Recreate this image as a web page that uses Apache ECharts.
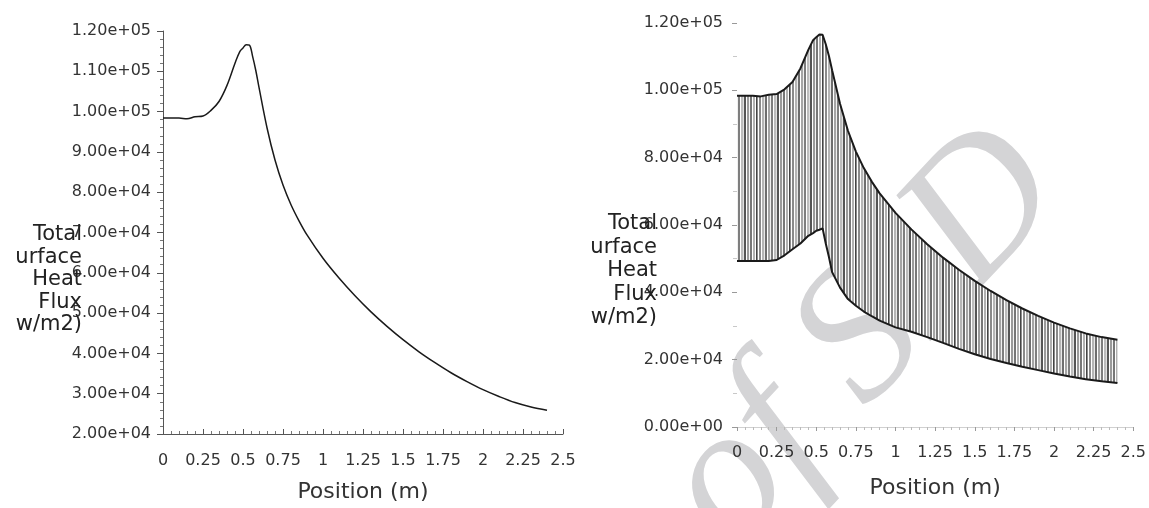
<!DOCTYPE html>
<html><head><meta charset="utf-8">
<script src="https://cdn.jsdelivr.net/npm/echarts@6/dist/echarts.min.js"></script>
<style>html,body{margin:0;padding:0;background:#fff}#c{width:1149px;height:508px}</style>
</head><body><div id="c"></div>
<script>
// Position along the wall (m)
const positions = [0, 0.05, 0.1, 0.15, 0.2, 0.25, 0.3, 0.35, 0.4, 0.45, 0.48, 0.5, 0.52, 0.54, 0.56, 0.58, 0.6, 0.65, 0.7, 0.75, 0.8, 0.85, 0.9, 1.0, 1.1, 1.2, 1.3, 1.4, 1.5, 1.6, 1.7, 1.8, 1.9, 2.0, 2.1, 2.2, 2.3, 2.4];
// Total surface heat flux (w/m2) - upper curve
const totalHeatFlux = [98400, 98400, 98400, 98200, 98700, 98900, 100300, 102500, 106500, 112000, 114900, 115800, 116600, 116500, 113700, 110200, 106000, 96000, 88000, 81800, 76900, 72900, 69400, 63600, 58700, 54300, 50300, 46700, 43400, 40400, 37700, 35200, 33000, 31000, 29300, 27800, 26700, 25900];
// Lower bound curve (right panel)
const lowerHeatFlux = [49300, 49300, 49300, 49300, 49300, 49600, 51000, 52800, 54500, 56800, 57600, 58300, 58600, 59000, 54500, 50500, 46000, 41400, 38000, 36000, 34300, 32900, 31600, 29600, 28300, 26700, 25000, 23200, 21600, 20200, 19000, 17900, 16900, 15900, 15000, 14200, 13600, 13100];

const xTickLabels = ['0', '0.25', '0.5', '0.75', '1', '1.25', '1.5', '1.75', '2', '2.25', '2.5'];
const yLabelText = 'Total\nurface\nHeat\nFlux\nw/m2)';
const xName = 'Position (m)';
const watermarkText = 'Archive of SID';

function sci(v) {
  const s = Number(v).toExponential(2);
  const m = s.split('e');
  const sign = m[1][0];
  let ex = m[1].slice(1);
  if (ex.length < 2) ex = '0' + ex;
  return m[0] + 'e' + sign + ex;
}

// vertical stripe texture for the band between the two curves: [colour, width px]
const stripeSpec = [['#8a8a8a',2],['#ffffff',1],['#b5b5b5',2],['#e8e8e8',1],['#6e6e6e',2],['#ffffff',1],['#a5a5a5',2],['#f0f0f0',1],['#7e7e7e',2],['#ffffff',1],['#bcbcbc',2],['#e0e0e0',1],['#555555',2],['#ffffff',1],['#9a9a9a',2],['#f4f4f4',1],['#777777',2],['#ffffff',1],['#b0b0b0',2],['#ffffff',1],['#444444',1],['#8c8c8c',1],['#ffffff',1]];
const patW = stripeSpec.reduce((s, d) => s + d[1], 0);
const pat = document.createElement('canvas');
pat.width = patW; pat.height = 4;
const pc = pat.getContext('2d');
let px = 0;
stripeSpec.forEach(function (d) { pc.fillStyle = d[0]; pc.fillRect(px, 0, d[1], 4); px += d[1]; });

const fontFam = '"DejaVu Sans", sans-serif';
const pair = (xs, ys) => xs.map((x, i) => [x, ys[i]]);

const chart = echarts.init(document.getElementById('c'), null, {renderer: 'canvas'});
chart.setOption({
  animation: false,
  backgroundColor: '#ffffff',
  grid: [
    {left: 163, right: 586, top: 31, bottom: 68},
    {left: 737, right: 15, top: 23, bottom: 81}
  ],
  xAxis: [
    {
      gridIndex: 0, type: 'value', min: 0, max: 2.5, interval: 0.25,
      name: xName, nameLocation: 'middle', nameGap: 47,
      nameTextStyle: {fontFamily: fontFam, fontSize: 22, color: '#333'},
      axisLine: {show: true, lineStyle: {color: '#555', width: 1}},
      axisTick: {show: true, inside: true, length: 5, lineStyle: {color: '#555'}},
      minorTick: {show: true, splitNumber: 5, length: 3, lineStyle: {color: '#777'}},
      splitLine: {show: false},
      axisLabel: {fontFamily: fontFam, fontSize: 16, color: '#333', margin: 19,
        formatter: function (v, i) { return xTickLabels[i]; }}
    },
    {
      gridIndex: 1, type: 'value', min: 0, max: 2.5, interval: 0.25,
      name: xName, nameLocation: 'middle', nameGap: 50,
      nameTextStyle: {fontFamily: fontFam, fontSize: 22, color: '#333'},
      axisLine: {show: true, lineStyle: {color: '#d0d0d0', width: 1}},
      axisTick: {show: true, inside: false, length: 4, lineStyle: {color: '#999'}},
      minorTick: {show: true, splitNumber: 5, length: 3, lineStyle: {color: '#bbb'}},
      splitLine: {show: false},
      axisLabel: {fontFamily: fontFam, fontSize: 16, color: '#333', margin: 18,
        formatter: function (v, i) { return xTickLabels[i]; }}
    }
  ],
  yAxis: [
    {
      gridIndex: 0, type: 'value', min: 20000, max: 120000, interval: 10000,
      axisLine: {show: true, lineStyle: {color: '#555', width: 1}},
      axisTick: {show: true, inside: false, length: 6, lineStyle: {color: '#555'}},
      minorTick: {show: true, splitNumber: 5, length: 3, lineStyle: {color: '#777'}},
      splitLine: {show: false},
      axisLabel: {fontFamily: fontFam, fontSize: 16, color: '#333', margin: 12, formatter: sci}
    },
    {
      gridIndex: 1, type: 'value', min: 0, max: 120000, interval: 20000,
      axisLine: {show: false},
      axisTick: {show: true, inside: false, length: 5, lineStyle: {color: '#999'}},
      minorTick: {show: true, splitNumber: 2, length: 4, lineStyle: {color: '#c8c8c8'}},
      splitLine: {show: false},
      axisLabel: {fontFamily: fontFam, fontSize: 16, color: '#333', margin: 14, formatter: sci}
    }
  ],
  graphic: [
    {type: 'text', z: -10, zlevel: 0, x: 1031, y: 160, rotation: Math.PI * 47 / 180,
      style: {text: watermarkText, font: 'italic 190px "Liberation Serif", serif', fill: '#d4d4d6', align: 'right', verticalAlign: 'middle'}},
    {type: 'text', z: 10, x: 82, y: 280,
      style: {text: yLabelText, font: '21px ' + fontFam, fill: '#222', align: 'right', verticalAlign: 'middle', lineHeight: 22.5}},
    {type: 'text', z: 10, x: 657, y: 271,
      style: {text: yLabelText, font: '21px ' + fontFam, fill: '#222', align: 'right', verticalAlign: 'middle', lineHeight: 23.5}}
  ],
  series: [
    {
      name: 'Total Surface Heat Flux', type: 'line', xAxisIndex: 0, yAxisIndex: 0,
      data: pair(positions, totalHeatFlux), showSymbol: false, smooth: 0.35,
      lineStyle: {color: '#1a1a1a', width: 1.5}
    },
    {
      name: 'band', type: 'custom', xAxisIndex: 1, yAxisIndex: 1, z: 1,
      data: positions.map((x, i) => [x, lowerHeatFlux[i], totalHeatFlux[i]]),
      encode: {x: 0, y: [1, 2]},
      renderItem: function (params, api) {
        if (params.dataIndex !== 0) return null;
        const pts = [];
        for (let i = 0; i < positions.length; i++) pts.push(api.coord([positions[i], totalHeatFlux[i]]));
        for (let i = positions.length - 1; i >= 0; i--) pts.push(api.coord([positions[i], lowerHeatFlux[i]]));
        return {type: 'polygon', shape: {points: pts}, style: {fill: {image: pat, repeat: 'repeat'}, stroke: null}};
      }
    },
    {
      name: 'lower', type: 'line', xAxisIndex: 1, yAxisIndex: 1, z: 3,
      data: pair(positions, lowerHeatFlux), showSymbol: false,
      lineStyle: {color: '#1a1a1a', width: 2}
    },
    {
      name: 'upper', type: 'line', xAxisIndex: 1, yAxisIndex: 1, z: 3,
      data: pair(positions, totalHeatFlux), showSymbol: false,
      lineStyle: {color: '#1a1a1a', width: 2}
    }
  ]
});
</script>
</body></html>
